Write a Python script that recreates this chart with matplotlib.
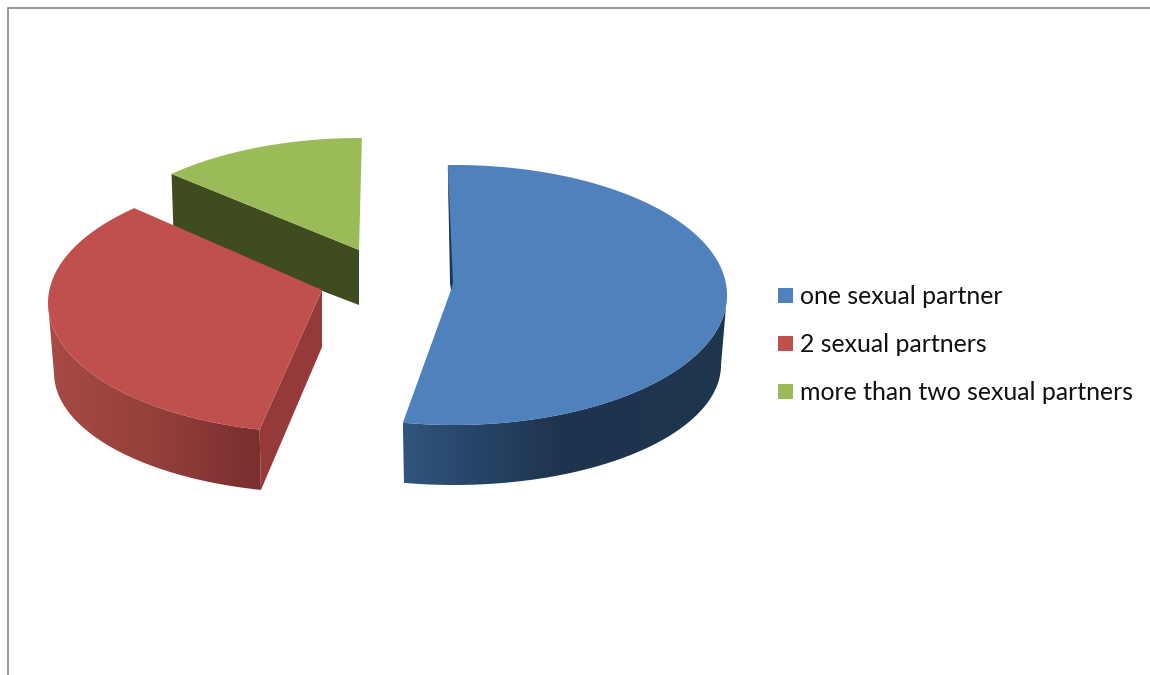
import numpy as np
import matplotlib
matplotlib.use("Agg")
import matplotlib.pyplot as plt
from matplotlib.colors import to_rgb
from matplotlib.patches import PathPatch, Polygon, Rectangle
from matplotlib.path import Path

labels = ["one sexual partner", "2 sexual partners", "more than two sexual partners"]
shares = [53.2, 34.3, 12.2]

top_colors = ["#4f81bd", "#c0504d", "#9bbb59"]
cut_colors = ["#1f3650", "#953a38", "#3f4c20"]
wall_stops = [
    [(0.0, "#31557c"), (0.2, "#28466a"), (0.48, "#1f344e"), (1.0, "#1e364f")],
    [(0.0, "#a94a45"), (0.5, "#94403b"), (1.0, "#7a2e2e")],
    [(0.0, "#3f4c20"), (1.0, "#3f4c20")],
]

# exploded pie layout, in pixels
centers = [(454, 295), (321, 303), (360, 268)]
tips = [(451, 290), (322, 290), (359, 250)]
tip_depth = [57, 57, 55]
turn = [0.0, 2.2, 1.7]
start_angle = -1.3
rx, ry = 273, 130
low_rx, low_ry, low_drop = 267, 120, 70

fig = plt.figure(figsize=(11.5, 6.75), dpi=100)
ax = fig.add_axes([0, 0, 1, 1])


def upper(c, a):
    a = np.radians(a)
    return np.column_stack([c[0] + rx * np.sin(a), c[1] - ry * np.cos(a)])


def lower(c, a):
    a = np.radians(a)
    return np.column_stack([c[0] + low_rx * np.sin(a), c[1] + low_drop - low_ry * np.cos(a)])


def gradient_wall(pts, stops, z):
    x0, x1 = pts[:, 0].min(), pts[:, 0].max()
    pos = [s[0] for s in stops]
    rgb = np.array([to_rgb(s[1]) for s in stops])
    t = np.linspace(0, 1, 256)
    img = np.stack([np.interp(t, pos, rgb[:, i]) for i in range(3)], axis=1)[None, :, :]
    y0, y1 = pts[:, 1].min(), pts[:, 1].max()
    im = ax.imshow(img, extent=(x0, x1, y1, y0), aspect="auto", zorder=z)
    im.set_clip_path(PathPatch(Path(pts, closed=False), transform=ax.transData))


# slice angles come from the shares
spans = np.array(shares) / sum(shares) * 360
starts = start_angle + np.concatenate([[0], np.cumsum(spans)[:-1]])

# back slice first so the nearer ones sit on top of it
for i in [2, 1, 0]:
    z = 3 * (3 - i)
    a0 = starts[i] + turn[i]
    a1 = a0 + spans[i]
    c = centers[i]
    tip = np.array(tips[i], dtype=float)
    tip_low = tip + [0, tip_depth[i]]
    rim = upper(c, np.linspace(a0, a1, 300))

    # outer wall, only the part that faces the viewer
    w0, w1 = max(a0, 90), min(a1, 270)
    if w1 > w0:
        wa = np.linspace(w0, w1, 200)
        top_edge = upper(c, wa)
        wall = np.vstack([top_edge, lower(c, wa)[::-1], top_edge[:1]])
        gradient_wall(wall, wall_stops[i], z)

    if i == 1:
        # cut face towards the viewer
        low_start = lower(c, np.array([a0]))[0]
        ax.add_patch(Polygon([tip, tip_low, low_start, rim[0]], closed=True, fc=cut_colors[i], ec="none", zorder=z + 1))
    if i == 2:
        # cut face seen from the front left
        ax.add_patch(Polygon([tip, tip_low, rim[0] + [2, 60], rim[0]], closed=True, fc=cut_colors[i], ec="none", zorder=z + 1))

    ax.add_patch(Polygon(np.vstack([rim, tip]), closed=True, fc=top_colors[i], ec="none", zorder=z + 2))

    if i == 0:
        # thin sliver of the inner wall along the blue slice
        ax.add_patch(Polygon([rim[0], tip + [2, -7], tip, tip + [-1, -7]], closed=True, fc=cut_colors[i], ec="none", zorder=z + 2))

# legend
for i, label in enumerate(labels):
    yc = 295.5 + i * 48
    ax.add_patch(Rectangle((778, yc - 7.5), 15, 15, fc=top_colors[i], ec="none", zorder=20))
    ax.text(799.5, yc + 1, label, family="Lato", fontsize=17.9, color="#111111", va="center", ha="left", zorder=20)

# chart frame, top and left only
ax.plot([8, 8, 1150], [675, 7.8, 7.8], color="#868686", lw=1.2, solid_joinstyle="miter", zorder=30)

ax.set_xlim(0, 1150)
ax.set_ylim(675, 0)
ax.axis("off")

fig.savefig("out.png", dpi=100)
